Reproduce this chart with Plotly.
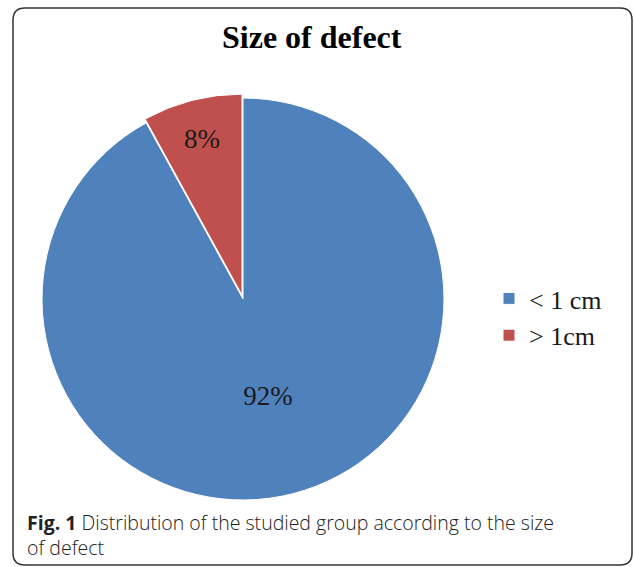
import plotly.graph_objects as go

labels = ["< 1 cm", "> 1cm"]
values = [92, 8]
colors = ["#4F81BD", "#C0504D"]
pulls = [0, 0.02]

title_text = "Size of defect"
caption_text = "<b>Fig. 1</b> Distribution of the studied group according to the size<br>of defect"

W, H = 634, 567

def px(x):
    return x / W

def py(y):
    return 1 - y / H

fig = go.Figure()
fig.add_trace(go.Pie(
    labels=labels,
    values=values,
    sort=False,
    direction="clockwise",
    rotation=0,
    pull=pulls,
    marker=dict(colors=colors, line=dict(color="white", width=1)),
    textinfo="percent",
    texttemplate="%{percent:.0%}",
    insidetextorientation="horizontal",
    textfont=dict(family="Liberation Serif", size=27, color="#1a1a1a"),
    domain=dict(x=[px(38), px(448)], y=[py(504), py(94)]),
    hoverinfo="label+percent",
))

# rounded border path
x0, y0, x1, y1, r = 13, 8, 632, 565, 12
path = (
    f"M {px(x0 + r)},{py(y0)} L {px(x1 - r)},{py(y0)} "
    f"Q {px(x1)},{py(y0)} {px(x1)},{py(y0 + r)} "
    f"L {px(x1)},{py(y1 - r)} Q {px(x1)},{py(y1)} {px(x1 - r)},{py(y1)} "
    f"L {px(x0 + r)},{py(y1)} Q {px(x0)},{py(y1)} {px(x0)},{py(y1 - r)} "
    f"L {px(x0)},{py(y0 + r)} Q {px(x0)},{py(y0)} {px(x0 + r)},{py(y0)} Z"
)

fig.update_layout(
    width=W, height=H,
    margin=dict(l=0, r=0, t=0, b=0),
    paper_bgcolor="white",
    plot_bgcolor="white",
    showlegend=True,
    legend=dict(
        x=px(489), y=py(317), xanchor="left", yanchor="middle",
        font=dict(family="Liberation Serif", size=26, color="#1a1a1a"),
        bgcolor="rgba(0,0,0,0)",
    ),
    shapes=[dict(type="path", path=path, xref="paper", yref="paper",
                 line=dict(color="#333333", width=1.5))],
    annotations=[
        dict(text=f"<b>{title_text}</b>", x=px(312), y=py(37), xref="paper", yref="paper",
             showarrow=False, xanchor="center", yanchor="middle",
             font=dict(family="Liberation Serif", size=32, color="black")),
        dict(text=caption_text, x=px(25), y=py(535), xref="paper", yref="paper",
             showarrow=False, xanchor="left", yanchor="middle", align="left",
             font=dict(family="Open Sans", size=19.5, color="#222222", weight=300)),
    ],
)

fig.write_html("out.html", config={"displayModeBar": False},
               post_script="document.body.style.margin='0';document.body.style.overflow='hidden';")
